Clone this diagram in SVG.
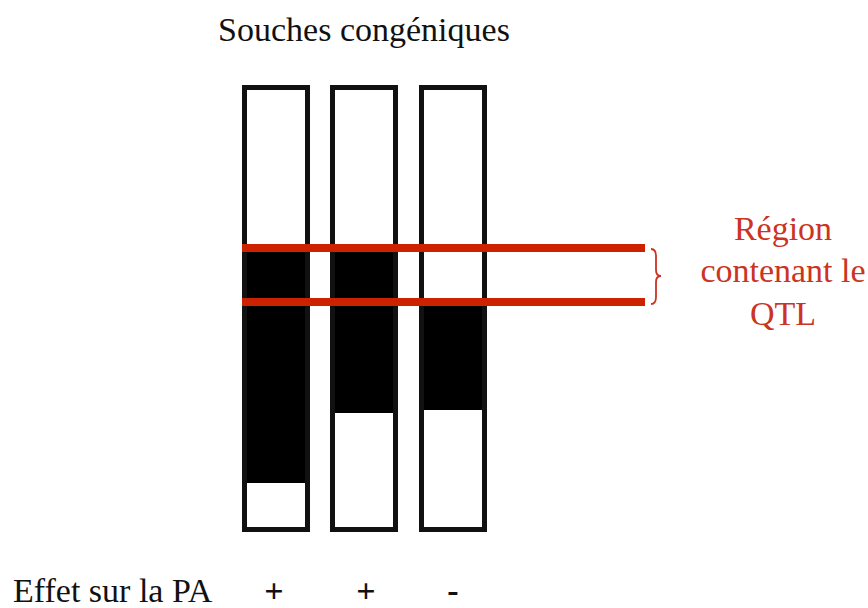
<svg xmlns="http://www.w3.org/2000/svg" width="868" height="608" viewBox="0 0 868 608">
<style>
.t{font-size:34px;fill:#111}
.r{font-size:34px;fill:#cc3322;text-anchor:middle}
.bar{fill:none;stroke:#111;stroke-width:5}
.blk{fill:#000}
.red{stroke:#cc2200;stroke-width:8;fill:none}
</style>
<rect width="868" height="608" fill="#fff"/>
<text class="t" x="364" y="41" text-anchor="middle" font-family="Liberation Serif, Times New Roman, serif">Souches congéniques</text>
<g id="strain1">
<rect class="blk" x="244" y="248" width="64" height="235"/>
<rect class="bar" x="244.5" y="87.5" width="63" height="442"/>
</g>
<g id="strain2">
<rect class="blk" x="332" y="248" width="64" height="165"/>
<rect class="bar" x="332.5" y="87.5" width="63" height="442"/>
</g>
<g id="strain3">
<rect class="blk" x="421" y="302" width="64" height="108"/>
<rect class="bar" x="421.5" y="87.5" width="63" height="442"/>
</g>
<g id="connectors">
<line class="red" x1="242" y1="248" x2="645" y2="248"/>
<line class="red" x1="242" y1="302" x2="645" y2="302"/>
<path d="M651 249 Q656 249 656 256 L656 270 Q656 276 661 276 Q656 276 656 282 L656 297 Q656 304 651 304" fill="none" stroke="#cc3322" stroke-width="1.8"/>
</g>
<g id="label" font-family="Liberation Serif, Times New Roman, serif">
<text class="r" x="783" y="240">Région</text>
<text class="r" x="783" y="282">contenant le</text>
<text class="r" x="783" y="325">QTL</text>
</g>
<g id="effects" font-family="Liberation Serif, Times New Roman, serif">
<text class="t" x="13" y="602" font-size="31">Effet sur la PA</text>
<text class="t" x="274" y="602" text-anchor="middle" font-weight="bold">+</text>
<text class="t" x="366" y="602" text-anchor="middle" font-weight="bold">+</text>
<text class="t" x="453" y="602" text-anchor="middle" font-weight="bold">-</text>
</g>
</svg>
